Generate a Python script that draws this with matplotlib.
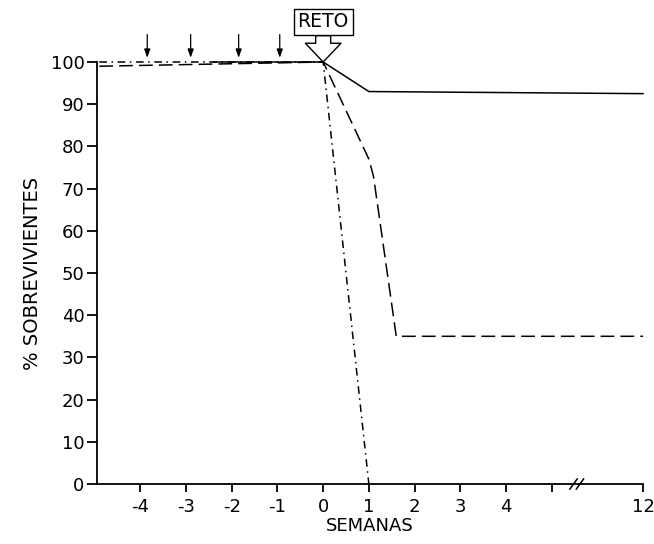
import matplotlib
matplotlib.use("Agg")
import matplotlib.pyplot as plt

# ---- data ----
tick_weeks = [-4, -3, -2, -1, 0, 1, 2, 3, 4, 5, 12]
tick_labels = ['-4', '-3', '-2', '-1', '0', '1', '2', '3', '4', '', '12']
y_ticks = [0, 10, 20, 30, 40, 50, 60, 70, 80, 90, 100]

solid_x = [-2.4, 0, 1, 12]
solid_y = [100, 100, 93, 92.5]

longdash_x = [-4.9, 0, 1, 1.1, 1.6, 12]
longdash_y = [99, 100, 77, 73, 35, 35]

dashdot_x = [-4.9, 0, 1]
dashdot_y = [100, 100, 0]

immunization_weeks = [-3.85, -2.9, -1.85, -0.95]
challenge_week = 0


def tx(x):
    """broken axis: weeks beyond 5 are compressed so that 12 sits at 7"""
    if isinstance(x, (list, tuple)):
        return [tx(v) for v in x]
    return x if x <= 5 else 5 + (x - 5) * (2.0 / 7.0)


plt.rcParams['font.family'] = ['DejaVu Sans']
fig = plt.figure(figsize=(6.54, 5.44), dpi=100)
ax = fig.add_axes([97 / 654, 1 - 484 / 544, (643 - 97) / 654, (484 - 62) / 544])

lw = 1.1
ax.plot(tx(solid_x), solid_y, color='black', lw=lw, clip_on=False)
ax.plot(tx(longdash_x), longdash_y, color='black', lw=lw, clip_on=False,
        dashes=(9, 4))
ax.plot(tx(dashdot_x), dashdot_y, color='black', lw=lw, clip_on=False,
        dashes=(5, 3, 1, 3))

# immunization arrows
for w in immunization_weeks:
    ax.annotate('', xy=(tx(w), 101.0), xytext=(tx(w), 106.5),
                annotation_clip=False,
                arrowprops=dict(arrowstyle='-|>,head_length=0.5,head_width=0.18',
                                color='black', lw=0.9, shrinkA=0, shrinkB=0))

# challenge
ax.annotate('RETO', xy=(tx(challenge_week), 100), xytext=(tx(challenge_week), 109.5),
            ha='center', va='center', fontsize=13.5, annotation_clip=False,
            bbox=dict(boxstyle='square,pad=0.2', fc='white', ec='black', lw=1.0),
            arrowprops=dict(arrowstyle='simple,head_length=1.0,head_width=1.9,tail_width=0.8',
                            fc='white', ec='black', lw=1.0, shrinkA=0, shrinkB=0))

ax.set_xlim(-4.95, tx(12))
ax.set_ylim(0, 100)
ax.spines['top'].set_visible(False)
ax.spines['right'].set_visible(False)
for s in ('left', 'bottom'):
    ax.spines[s].set_linewidth(1.3)

ax.set_xticks(tx(tick_weeks))
ax.set_xticklabels(tick_labels)
ax.set_yticks(y_ticks)
ax.tick_params(axis='both', direction='out', width=1.3, labelsize=13, colors='black')
ax.tick_params(axis='x', length=6, pad=4)
ax.tick_params(axis='y', length=7, pad=2)

# axis break marks
bx = tx(5) + 0.55
for dx in (-0.07, 0.07):
    ax.plot([bx + dx - 0.08, bx + dx + 0.08], [-1.2, 1.2], color='black', lw=1.1,
            clip_on=False)

ax.set_xlabel('SEMANAS', fontsize=13, labelpad=1)
ax.set_ylabel('% SOBREVIVIENTES', fontsize=14, labelpad=6)

fig.savefig('out.png', dpi=100, facecolor='white')
